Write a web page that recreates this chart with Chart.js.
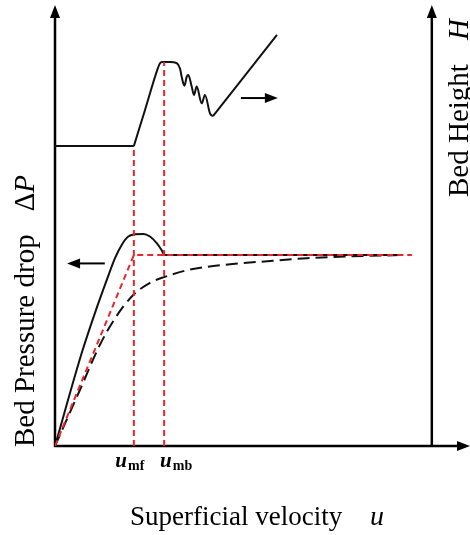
<!DOCTYPE html>
<html><head><meta charset="utf-8">
<script src="https://cdn.jsdelivr.net/npm/chart.js@4"></script>
<style>html,body{margin:0;padding:0;background:#fff;overflow:hidden}canvas{display:block}</style>
</head><body>
<canvas id="c" width="470" height="535"></canvas>
<script>
// Superficial velocity (arbitrary units, 0..100) / pressure drop & bed height (arbitrary units, 0..100)
const pressureU = [0, 6.51, 9.64, 12.46, 14.46, 16.07, 17.66, 19.28, 21.28, 22.89, 24.51, 25.71, 26.4, 83.9];
const pressureP = [0, 21.3, 30.2, 37.6, 42.6, 45.6, 47.5, 48.0, 48.1, 47.5, 46.0, 44.4, 43.3, 43.3];

const theoryU = [0, 6.0, 10.8, 14.5, 18.8, 22.9, 26.3, 32.5, 42.2, 52.5, 60.7, 71.1, 83.6];
const theoryP = [0, 12.7, 22.9, 29.0, 34.2, 37.0, 38.3, 40.0, 41.2, 42.0, 42.6, 43.0, 43.3];

const idealU = [0, 19.0, 86.0];
const idealP = [0, 43.3, 43.3];

const fixedBedU = [0, 19.0];
const fixedBedH = [68.0, 68.0];
const bubblingU = [19.0, 21.69, 24.65, 25.3, 25.78, 27.71, 29.33, 30.12, 30.53, 30.92, 31.2, 31.73, 32.12, 32.94, 33.49, 34.14, 35.35, 36.14, 37.35, 38.07];
const bubblingH = [68.0, 76.2, 85.3, 86.8, 87.1, 87.1, 86.8, 85.6, 83.7, 82.2, 81.7, 83.7, 84.1, 81.5, 79.6, 81.5, 77.7, 79.6, 75.4, 74.8];
const sluggingU = [38.07, 53.49];
const sluggingH = [74.8, 93.2];

const tickValues = [19.0, 26.3];
const tickLabels = [['u', 'mf'], ['u', 'mb']];
const tickTops = [68.0, 87.1];   // where the vertical guides meet the height curve

const rightAxisU = 90.8;
const leftArrow = [[12.0, 41.4], [2.9, 41.4]];
const rightArrow = [[44.8, 78.9], [53.7, 78.9]];

const xTitle = ['Superficial velocity', 'u'];
const yTitle = ['Bed Pressure drop', '\u0394', 'P'];
const y2Title = ['Bed Height', 'H'];

const RED = '#e8262c';
const pts = (xs, ys) => xs.map((x, i) => ({x, y: ys[i]}));

const base = {showLine: true, pointRadius: 0, fill: false, borderWidth: 2};
const datasets = [
  Object.assign({}, base, {label: 'ideal', data: pts(idealU, idealP), borderColor: RED, borderDash: [6, 4], tension: 0}),
  Object.assign({}, base, {label: 'umf', data: [{x: tickValues[0], y: 0}, {x: tickValues[0], y: tickTops[0]}], borderColor: RED, borderDash: [6, 4]}),
  Object.assign({}, base, {label: 'umb', data: [{x: tickValues[1], y: 0}, {x: tickValues[1], y: tickTops[1]}], borderColor: RED, borderDash: [6, 4]}),
  Object.assign({}, base, {label: 'theory', data: pts(theoryU, theoryP), borderColor: '#111', borderDash: [12, 6], cubicInterpolationMode: 'monotone'}),
  Object.assign({}, base, {label: 'pressure', data: pts(pressureU, pressureP), borderColor: '#111', cubicInterpolationMode: 'monotone'}),
  Object.assign({}, base, {label: 'fixed', data: pts(fixedBedU, fixedBedH), borderColor: '#111'}),
  Object.assign({}, base, {label: 'bubbling', data: pts(bubblingU, bubblingH), borderColor: '#111', cubicInterpolationMode: 'monotone'}),
  Object.assign({}, base, {label: 'slugging', data: pts(sluggingU, sluggingH), borderColor: '#111'})
];

function arrowHead(ctx, tx, ty, dir, len, half) {
  ctx.beginPath();
  if (dir === 'up') { ctx.moveTo(tx, ty); ctx.lineTo(tx - half, ty + len); ctx.lineTo(tx + half, ty + len); }
  if (dir === 'right') { ctx.moveTo(tx, ty); ctx.lineTo(tx - len, ty - half); ctx.lineTo(tx - len, ty + half); }
  if (dir === 'left') { ctx.moveTo(tx, ty); ctx.lineTo(tx + len, ty - half); ctx.lineTo(tx + len, ty + half); }
  ctx.closePath(); ctx.fill();
}

const decor = {
  id: 'decor',
  beforeDatasetsDraw(chart) {
    const {ctx, scales: {x, y}} = chart;
    ctx.save();
    ctx.strokeStyle = '#000'; ctx.fillStyle = '#000'; ctx.lineWidth = 2.5; ctx.lineCap = 'butt';
    const x0 = x.getPixelForValue(0), y0 = y.getPixelForValue(0);
    const yTop = y.getPixelForValue(100), xEnd = x.getPixelForValue(100);
    const xr = x.getPixelForValue(rightAxisU);
    ctx.beginPath();
    ctx.moveTo(x0, y0 + 1); ctx.lineTo(x0, yTop + 10);
    ctx.moveTo(xr, y0); ctx.lineTo(xr, yTop + 10);
    ctx.moveTo(x0 - 1, y0); ctx.lineTo(xEnd - 10, y0);
    ctx.stroke();
    arrowHead(ctx, x0, yTop, 'up', 13, 5);
    arrowHead(ctx, xr, yTop, 'up', 13, 5);
    arrowHead(ctx, xEnd, y0, 'right', 13, 5);
    ctx.restore();
  },
  afterDraw(chart) {
    const {ctx, scales: {x, y}} = chart;
    ctx.save();
    ctx.fillStyle = '#000'; ctx.strokeStyle = '#000'; ctx.lineWidth = 2;
    [[leftArrow, 'left'], [rightArrow, 'right']].forEach(([a, dir]) => {
      const sx = x.getPixelForValue(a[0][0]), sy = y.getPixelForValue(a[0][1]);
      const ex = x.getPixelForValue(a[1][0]);
      ctx.beginPath(); ctx.moveTo(sx, sy); ctx.lineTo(dir === 'left' ? ex + 10 : ex - 10, sy); ctx.stroke();
      arrowHead(ctx, ex, sy, dir, 13, 5);
    });
    const serif = '"Liberation Serif", "Times New Roman", serif';
    const offs = [-4, 12];
    tickValues.forEach((v, i) => {
      const [main, sub] = tickLabels[i];
      ctx.font = 'italic bold 21px ' + serif;
      const w1 = ctx.measureText(main).width;
      ctx.font = 'bold 14px ' + serif;
      const w2 = ctx.measureText(sub).width;
      const cx = x.getPixelForValue(v) + offs[i];
      const left = cx - (w1 + w2 + 1) / 2;
      ctx.textBaseline = 'alphabetic'; ctx.textAlign = 'left';
      ctx.font = 'italic bold 21px ' + serif;
      ctx.fillText(main, left, 467);
      ctx.font = 'bold 14px ' + serif;
      ctx.fillText(sub, left + w1 + 1, 470);
    });
    ctx.font = '27px ' + serif;
    ctx.textAlign = 'left'; ctx.textBaseline = 'alphabetic';
    ctx.fillText(xTitle[0], 130, 525);
    ctx.font = 'italic 28px ' + serif;
    ctx.fillText(xTitle[1], 370, 525);
    ctx.save();
    ctx.translate(34, 447); ctx.rotate(-Math.PI / 2);
    ctx.font = '29px ' + serif;
    ctx.fillText(yTitle[0], 0, 0);
    const wA = ctx.measureText(yTitle[0]).width;
    ctx.fillText(yTitle[1], wA + 23, 0);
    const wD = ctx.measureText(yTitle[1]).width;
    ctx.font = 'italic 29px ' + serif;
    ctx.fillText(yTitle[2], wA + 23 + wD, 0);
    ctx.restore();
    ctx.save();
    ctx.translate(468, 197); ctx.rotate(-Math.PI / 2);
    ctx.font = '29px ' + serif;
    ctx.fillText(y2Title[0], 0, 0);
    const wB = ctx.measureText(y2Title[0]).width;
    ctx.font = 'italic 29px ' + serif;
    ctx.fillText(y2Title[1], wB + 24, 0);
    ctx.restore();
    ctx.restore();
  }
};

new Chart(document.getElementById('c'), {
  type: 'scatter',
  data: {datasets},
  options: {
    responsive: false, animation: false, devicePixelRatio: 1,
    layout: {padding: {left: 55, right: 0, top: 5, bottom: 89}},
    plugins: {legend: {display: false}, tooltip: {enabled: false}},
    scales: {
      x: {type: 'linear', min: 0, max: 100, display: false},
      y: {type: 'linear', min: 0, max: 100, display: false}
    }
  },
  plugins: [decor]
});
</script>
</body></html>
